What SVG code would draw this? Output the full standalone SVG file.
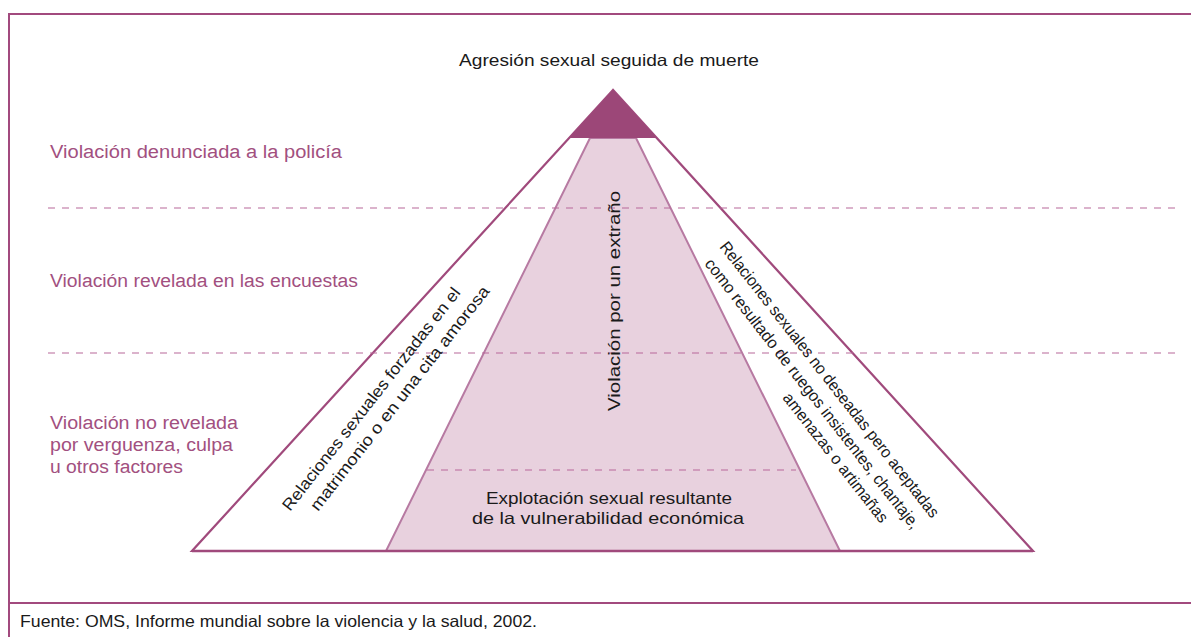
<svg xmlns="http://www.w3.org/2000/svg" width="1191" height="637" viewBox="0 0 1191 637">
<style>
.frame{stroke:#a24a7e;stroke-width:2;fill:none}
.dash{stroke:#b8689a;stroke-width:1.2;stroke-dasharray:7 7;fill:none}
.lbl{font-family:"Liberation Sans",Arial,sans-serif;font-size:18px;fill:#a2507f}
.txt{font-family:"Liberation Sans",Arial,sans-serif;font-size:16.5px;fill:#1a1a1a}
</style>
<rect width="1191" height="637" fill="#ffffff"/>
<g id="frame">
<polyline class="frame" points="1191,14 9,14 9,637"/>
<line class="frame" x1="9" y1="603" x2="1191" y2="603"/>
</g>
<g id="outer-triangle">
<polygon points="613,90 192,551 1033,551" fill="#ffffff" stroke="#a04a7c" stroke-width="2.2"/>
</g>
<g id="inner-trapezoid">
<polygon points="590,138 636,138 840,551 386,551" fill="#e8d1de" stroke="#b77aa2" stroke-width="2"/>
</g>
<g id="apex">
<polygon points="613,90 569,138 657,138" fill="#9c4778"/>
</g>
<g id="base"><line x1="192" y1="551" x2="1033" y2="551" stroke="#a04a7c" stroke-width="2.5"/></g>
<g id="connectors">
<line class="dash" x1="48" y1="208" x2="1180" y2="208"/>
<line class="dash" x1="48" y1="353" x2="1180" y2="353"/>
<line class="dash" x1="427" y1="470" x2="796" y2="470"/>
</g>
<g id="title"><text class="txt" x="609" y="66" text-anchor="middle" font-size="17" textLength="300" lengthAdjust="spacingAndGlyphs">Agresión sexual seguida de muerte</text></g>
<g id="label-denunciada"><text class="lbl" x="50" y="158" textLength="292" lengthAdjust="spacingAndGlyphs">Violación denunciada a la policía</text></g>
<g id="label-encuestas"><text class="lbl" x="50" y="287" textLength="308" lengthAdjust="spacingAndGlyphs">Violación revelada en las encuestas</text></g>
<g id="label-no-revelada">
<text class="lbl" x="50" y="429" textLength="188" lengthAdjust="spacingAndGlyphs">Violación no revelada</text>
<text class="lbl" x="50" y="451" textLength="183" lengthAdjust="spacingAndGlyphs">por verguenza, culpa</text>
<text class="lbl" x="50" y="473" textLength="133" lengthAdjust="spacingAndGlyphs">u otros factores</text>
</g>
<g id="extrano"><text class="txt" transform="translate(620,301) rotate(-90)" text-anchor="middle" font-size="17" textLength="220" lengthAdjust="spacingAndGlyphs">Violación por un extraño</text></g>
<g id="forzadas">
<text class="txt" transform="translate(290,512) rotate(-52)" textLength="278" lengthAdjust="spacingAndGlyphs">Relaciones sexuales forzadas en el</text>
<text class="txt" transform="translate(318,512) rotate(-52)" textLength="280" lengthAdjust="spacingAndGlyphs">matrimonio o en una cita amorosa</text>
</g>
<g id="no-deseadas">
<text class="txt" transform="translate(719,247) rotate(52)" textLength="345" lengthAdjust="spacingAndGlyphs">Relaciones sexuales no deseadas pero aceptadas</text>
<text class="txt" transform="translate(704,264) rotate(52)" textLength="338" lengthAdjust="spacingAndGlyphs">como resultado de ruegos insistentes, chantaje,</text>
<text class="txt" transform="translate(782,398) rotate(52)" textLength="160" lengthAdjust="spacingAndGlyphs">amenazas o artimañas</text>
</g>
<g id="explotacion">
<text class="txt" x="609" y="504" text-anchor="middle" textLength="246" lengthAdjust="spacingAndGlyphs">Explotación sexual resultante</text>
<text class="txt" x="608" y="524" text-anchor="middle" textLength="272" lengthAdjust="spacingAndGlyphs">de la vulnerabilidad económica</text>
</g>
<g id="footer"><text class="txt" x="20" y="627" font-size="16" textLength="517" lengthAdjust="spacingAndGlyphs">Fuente: OMS, Informe mundial sobre la violencia y la salud, 2002.</text></g>
</svg>
